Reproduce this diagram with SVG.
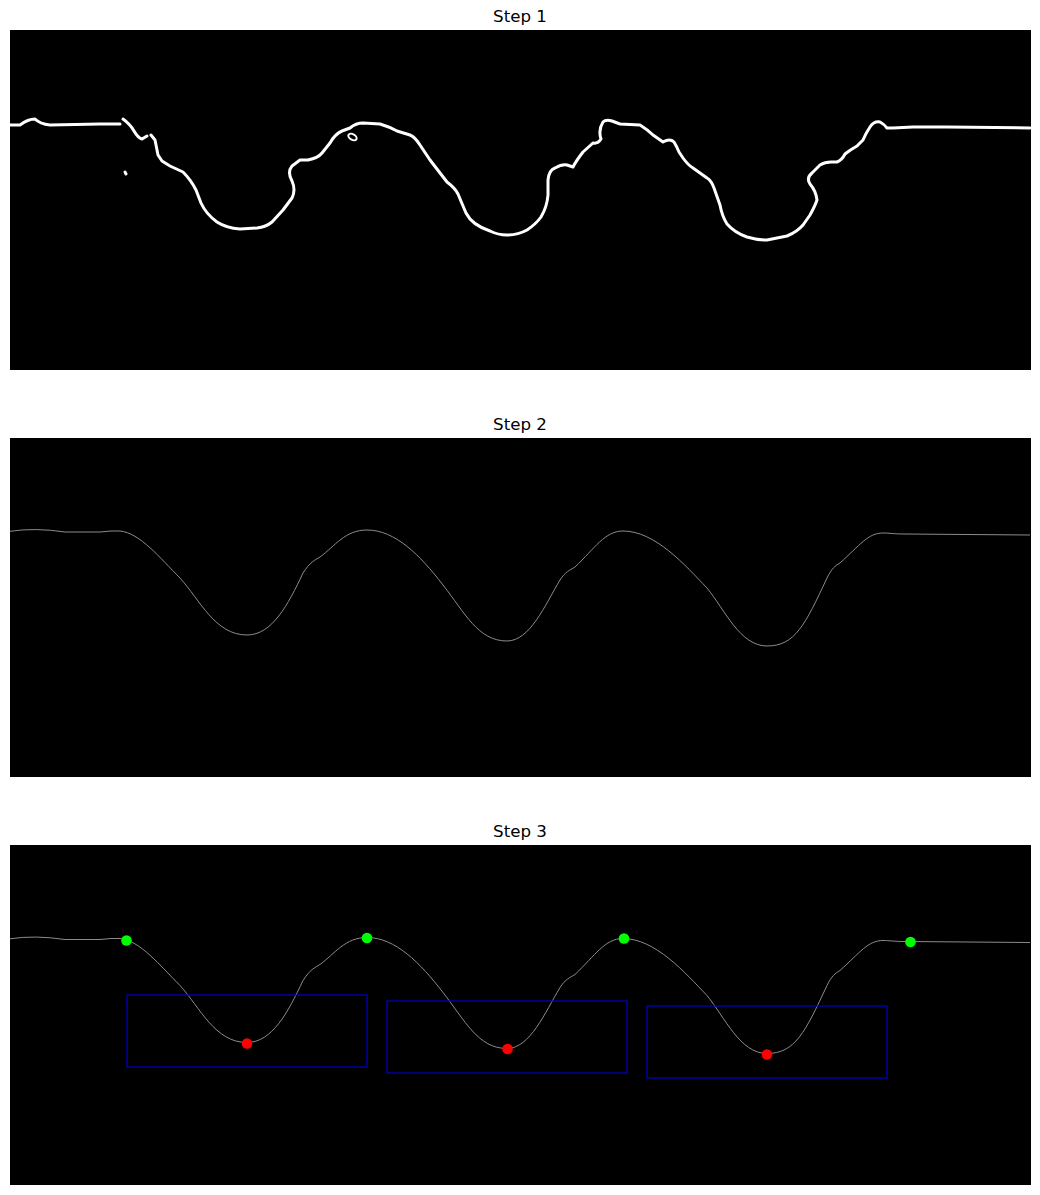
<svg xmlns="http://www.w3.org/2000/svg" width="1040" height="1195" viewBox="0 0 1040 1195">
<style>
.title{font-family:"DejaVu Sans",sans-serif;font-size:16.67px;fill:#000;text-anchor:middle}
.panel{fill:#000}
.edge{fill:none;stroke:#fff;stroke-width:3;stroke-linejoin:round;stroke-linecap:round}
.thin{fill:none;stroke:#8c8c8c;stroke-width:1;stroke-linejoin:round}
.box{fill:none;stroke:#0000c8;stroke-width:1.2}
.peak{fill:#00ff00}
.valley{fill:#ff0000}
</style>
<defs>
<path id="smooth" d="M10,531.3 Q35,527.5 65,532 L100,532 Q112,530.5 120,531 C140,533 160,558 180,578 C200,600 215,635 247,635 C272,635 288,605 303,573 C310,562 315,560 320,557 C335,546 345,530 367,530 C395,530 420,555 443,585 C465,613 478,641 507,641 C530,641 545,605 560,580 C565,572 570,570 575,567 C595,548 605,531 623,531 C655,531 685,565 707,588 C725,610 740,646 767,646 C795,646 805,625 827,578 C832,568 835,566 840,563 C860,545 868,533 883,533 C890,533 893,534 905,534 L1030,535"/>
</defs>
<rect width="1040" height="1195" fill="#fff"/>
<g id="panel1">
<text class="title" x="520" y="22">Step 1</text>
<rect class="panel" x="10" y="30" width="1021" height="340"/>
<path class="edge" d="M10,125 L20,125 Q28,119 35,119 Q40,124 50,125 L100,124 L120,124"/>
<path class="edge" d="M123,119 Q130,124 134,131 Q138,138 142,139 L147,136"/>
<path class="edge" d="M125,172 L126,174" stroke-width="2"/>
<path class="edge" d="M151,135 L155,140 L158,155 L162,161 L170,166 L183,172 Q191,180 196,190 L201,203 Q206,214 217,222 Q226,228 240,229 L257,228 Q266,227 272,222 L283,210 L292,198 Q296,190 292,181 Q287,172 292,166 L300,160 L308,160 Q318,158 322,153 L330,143 Q335,134 342,131 L350,128 Q356,123 363,123 L380,124 Q390,127 397,131 L410,135 Q415,137 420,145 L430,160 L447,182 Q455,188 458,194 Q463,206 466,213 Q472,225 490,231 Q498,235 507,235 Q518,235 527,230 Q536,224 541,217 Q547,207 548,195 L548,180 Q549,170 555,168 Q562,164 567,165 L573,167 Q576,161 583,152 L593,143 Q598,144 601,139 Q598,130 603,122 Q606,119 612,121 L620,124 L640,125 Q648,130 653,135 L663,142 Q670,138 674,142 Q677,147 679,152 L683,158 Q688,165 693,168 L707,178 Q711,180 714,188 L720,205 Q722,216 727,224 Q735,233 747,237 Q757,240 767,240 L787,236 Q797,232 803,225 L810,215 Q815,206 817,200 Q816,191 810,184 Q806,178 812,173 L820,165 Q825,162 831,162 L837,162 Q842,160 845,154 Q850,150 857,146 L863,140 Q866,133 870,127 Q874,121 880,122 Q884,124 887,128 L893,128 L913,127 L947,127 L1030,128"/>
<ellipse cx="352.5" cy="137" rx="4.5" ry="2.8" transform="rotate(30 352.5 137)" fill="none" stroke="#fff" stroke-width="2"/>
</g>
<g id="panel2">
<text class="title" x="520" y="430">Step 2</text>
<rect class="panel" x="10" y="438" width="1021" height="339"/>
<use href="#smooth" class="thin"/>
</g>
<g id="panel3">
<text class="title" x="520" y="837">Step 3</text>
<rect class="panel" x="10" y="845" width="1021" height="340"/>
<use href="#smooth" class="thin" transform="translate(0,407.5)"/>
<g id="boxes">
<rect class="box" x="127" y="995" width="240" height="72"/>
<rect class="box" x="387" y="1001" width="240" height="72"/>
<rect class="box" x="647" y="1006" width="240" height="72"/>
</g>
<g id="peaks">
<circle class="peak" cx="126.5" cy="940.5" r="5.3"/>
<circle class="peak" cx="367" cy="938" r="5.3"/>
<circle class="peak" cx="624" cy="938.5" r="5.3"/>
<circle class="peak" cx="910.5" cy="942" r="5.3"/>
</g>
<g id="valleys">
<circle class="valley" cx="247" cy="1043.5" r="5.3"/>
<circle class="valley" cx="507.5" cy="1049" r="5.3"/>
<circle class="valley" cx="767" cy="1054.5" r="5.3"/>
</g>
</g>
</svg>
